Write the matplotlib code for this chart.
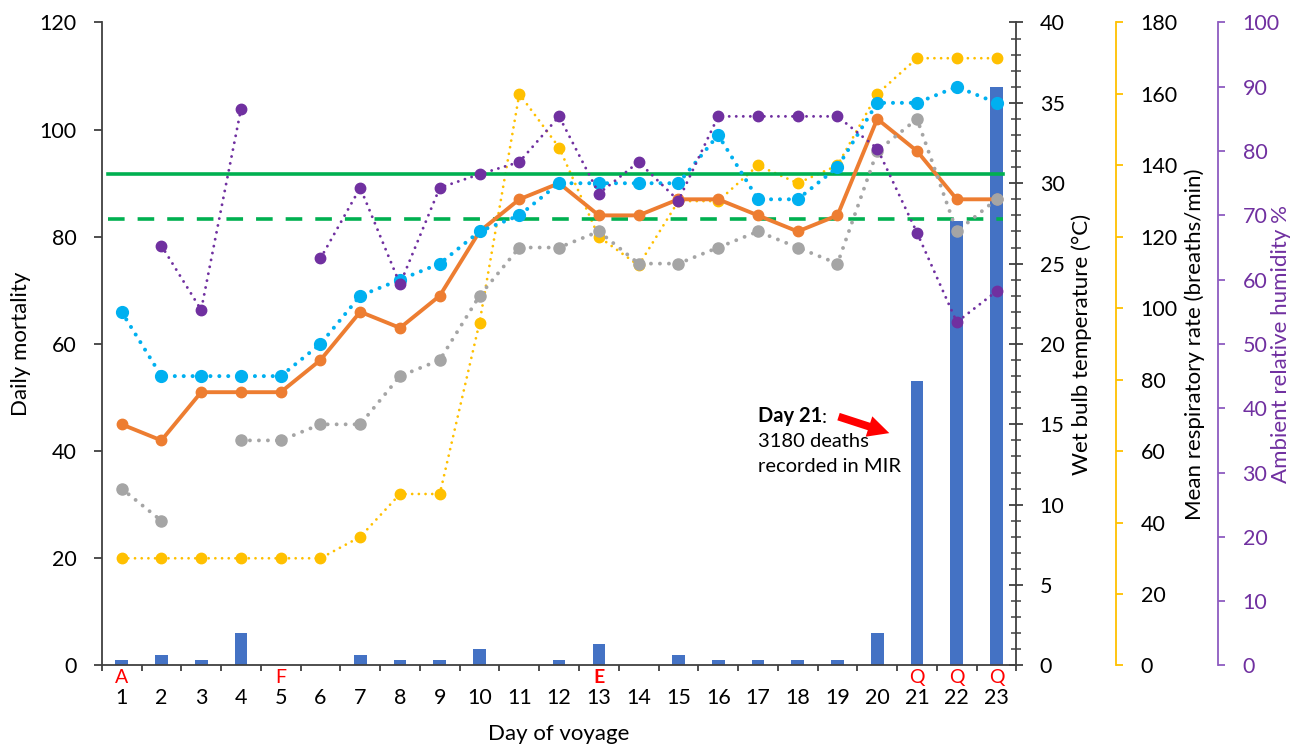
import numpy as np
import matplotlib
matplotlib.use('Agg')
import matplotlib.pyplot as plt
from matplotlib.ticker import MultipleLocator
from matplotlib.patches import FancyArrowPatch

plt.rcParams['font.family'] = ['Lato', 'DejaVu Sans']

# ---------------- data ----------------
days = list(range(1, 24))
daily_mortality = [1, 2, 1, 6, 0, 0, 2, 1, 1, 3, 0, 1, 4, 0, 2, 1, 1, 1, 1, 6, 53, 83, 108]
wet_bulb_orange = [15, 14, 17, 17, 17, 19, 22, 21, 23, 27, 29, 30, 28, 28, 29, 29, 28, 27, 28, 34, 32, 29, 29]
temp_cyan = [22, 18, 18, 18, 18, 20, 23, 24, 25, 27, 28, 30, 30, 30, 30, 33, 29, 29, 31, 35, 35, 36, 35]
temp_grey = [11, 9, np.nan, 14, 14, 15, 15, 18, 19, 23, 26, 26, 27, 25, 25, 26, 27, 26, 25, 32, 34, 27, 29]
resp_rate = [30, 30, 30, 30, 30, 30, 36, 48, 48, 96, 160, 145, 120, 112, 130, 130, 140, 135, 140, 160, 170, 170, 170]
humidity = [np.nan, 65.3, 55.3, 86.5, np.nan, 63.3, 74.3, 59.3, 74.3, 76.4, 78.3, 85.4, 73.4, 78.3, 72.3,
            85.4, 85.4, 85.4, 85.4, 80.4, 67.3, 53.4, 58.2]
threshold_solid = 30.6
threshold_dashed = 27.8
threshold_span = [0.67, 23.15]
stage_days = [1, 5, 13, 21, 22, 23]
stage_letters = ['A', 'F', 'E', 'Q', 'Q', 'Q']
mort_ticks = [0, 20, 40, 60, 80, 100, 120]
resp_ticks = [0, 20, 40, 60, 80, 100, 120, 140, 160, 180]
hum_ticks = [0, 10, 20, 30, 40, 50, 60, 70, 80, 90, 100]

# ---------------- styling ----------------
C_BAR = '#4472C4'
C_OR = '#ED7D31'
C_CY = '#00B0F0'
C_GR = '#A5A5A5'
C_YE = '#FFC000'
C_PU = '#7030A0'
C_PU_SP = '#8E5CC0'
C_GN = '#00B050'
C_AX = '#404040'
TICK_FS = 15.5
LAB_FS = 16

fig = plt.figure(figsize=(12.96, 7.45), dpi=100)
ax = fig.add_axes([0.0785, 0.1068, 0.7058, 0.863])
ax_rr = ax.twinx()
ax_wb = ax.twinx()
ax_rh = ax.twinx()
ax.set_zorder(0)
ax_rr.set_zorder(1)
ax_wb.set_zorder(2)
ax_rh.set_zorder(3)

# bars
ax.bar(days, daily_mortality, width=0.32, color=C_BAR, zorder=2)
ax.set_xlim(0.5, 23.5)
ax.set_ylim(0, 120)
ax.set_yticks(mort_ticks)
for s in ['top', 'right']:
    ax.spines[s].set_visible(False)
for s in ['left', 'bottom']:
    ax.spines[s].set_color(C_AX)
    ax.spines[s].set_linewidth(1.3)
ax.tick_params(axis='y', direction='out', length=6, width=1.3, color=C_AX, pad=12, labelsize=TICK_FS)
ax.set_xticks(days)
ax.set_xticklabels([str(d) for d in days])
ax.tick_params(axis='x', which='major', length=0, pad=16, labelsize=TICK_FS)
ax.set_xticks(np.arange(0.5, 24, 1), minor=True)
ax.tick_params(axis='x', which='minor', direction='out', length=4.5, width=1.3, color=C_AX)
ax.set_ylabel('Daily mortality', fontsize=LAB_FS)
ax.yaxis.set_label_coords(-0.0886, 0.5)
ax.yaxis.label.set_va('center')
ax.set_xlabel('Day of voyage', fontsize=LAB_FS)
ax.xaxis.set_label_coords(0.5, -0.0918)
ax.xaxis.label.set_va('top')

for d, l in zip(stage_days, stage_letters):
    ax.text(d, -0.0185, l, transform=ax.get_xaxis_transform(), ha='center', va='center',
            color='red', fontsize=14, fontweight='bold' if l == 'E' else 'normal')

# twin axes common
for a in (ax_rr, ax_wb, ax_rh):
    for s in ['top', 'left', 'bottom']:
        a.spines[s].set_visible(False)
    a.set_xlim(0.5, 23.5)

# wet bulb axis
ax_wb.set_ylim(0, 40)
ax_wb.yaxis.set_major_locator(MultipleLocator(5))
ax_wb.yaxis.set_minor_locator(MultipleLocator(1))
ax_wb.spines['right'].set_color(C_AX)
ax_wb.spines['right'].set_linewidth(1.3)
ax_wb.tick_params(axis='y', which='major', direction='inout', length=9.4, width=1.3, color=C_AX,
                  pad=12, labelsize=TICK_FS)
ax_wb.tick_params(axis='y', which='minor', direction='inout', length=6.5, width=1.1, color=C_AX)
ax_wb.set_ylabel('Wet bulb temperature (°C)', fontsize=LAB_FS)
ax_wb.yaxis.set_label_coords(1.0711, 0.5)
ax_wb.yaxis.label.set_va('center')

# respiratory axis
ax_rr.set_ylim(0, 180)
ax_rr.set_yticks(resp_ticks)
ax_rr.spines['right'].set_position(('axes', 1.1086))
ax_rr.spines['right'].set_color(C_YE)
ax_rr.spines['right'].set_linewidth(1.3)
ax_rr.tick_params(axis='y', direction='out', length=5, width=1.3, color=C_YE, pad=13,
                  labelsize=TICK_FS, labelcolor='black')
ax_rr.set_ylabel('Mean respiratory rate (breaths/min)', fontsize=LAB_FS)
ax_rr.yaxis.set_label_coords(1.1949, 0.5)
ax_rr.yaxis.label.set_va('center')

# humidity axis
ax_rh.set_ylim(0, 100)
ax_rh.set_yticks(hum_ticks)
ax_rh.spines['right'].set_position(('axes', 1.2199))
ax_rh.spines['right'].set_color(C_PU_SP)
ax_rh.spines['right'].set_linewidth(1.3)
ax_rh.tick_params(axis='y', direction='out', length=5, width=1.3, color=C_PU_SP, pad=13,
                  labelsize=TICK_FS, labelcolor=C_PU)
ax_rh.set_ylabel('Ambient relative humidity %', fontsize=LAB_FS, color=C_PU)
ax_rh.yaxis.set_label_coords(1.2897, 0.5)
ax_rh.yaxis.label.set_va('center')

# lines
ax_rr.plot(days, resp_rate, color=C_YE, lw=2.0, ls=(0, (0.01, 2.4)), dash_capstyle='round',
           marker='o', ms=7.5, zorder=3)
ax_wb.plot(threshold_span, [threshold_solid] * 2, color=C_GN, lw=2.6, zorder=2)
ax_wb.plot(threshold_span, [threshold_dashed] * 2, color=C_GN, lw=2.6, ls=(0, (4.6, 3.6)), zorder=2)
ax_wb.plot(days, wet_bulb_orange, color=C_OR, lw=2.8, marker='o', ms=7.5, zorder=3)
ax_wb.plot(days, temp_grey, color=C_GR, lw=2.8, ls=(0, (0.01, 2.3)), dash_capstyle='round',
           marker='o', ms=8, zorder=4)
ax_wb.plot(days, temp_cyan, color=C_CY, lw=2.9, ls=(0, (0.01, 2.2)), dash_capstyle='round',
           marker='o', ms=8.5, zorder=5)
ax_rh.plot(days, humidity, color=C_PU, lw=2.1, ls=(0, (0.01, 2.4)), dash_capstyle='round',
           marker='o', ms=7.5, zorder=3)

# annotation
t1 = ax.text(17.0, 46.6, 'Day 21', fontsize=14.5, fontweight='bold', ha='left', va='center')
ax.annotate(':', xy=(1, 0), xycoords=t1, ha='left', va='bottom', fontsize=14.5)
ax.text(17.0, 41.8, '3180 deaths', fontsize=14.5, ha='left', va='center')
ax.text(17.0, 37.1, 'recorded in MIR', fontsize=14.5, ha='left', va='center')
arrow = FancyArrowPatch((18.96, 46.6), (20.37, 43.2),
                        arrowstyle='simple,head_length=1.1,head_width=1.1,tail_width=0.4',
                        mutation_scale=14, color='red', lw=0, zorder=6)
ax.add_patch(arrow)

fig.savefig('out.png', dpi=100)
